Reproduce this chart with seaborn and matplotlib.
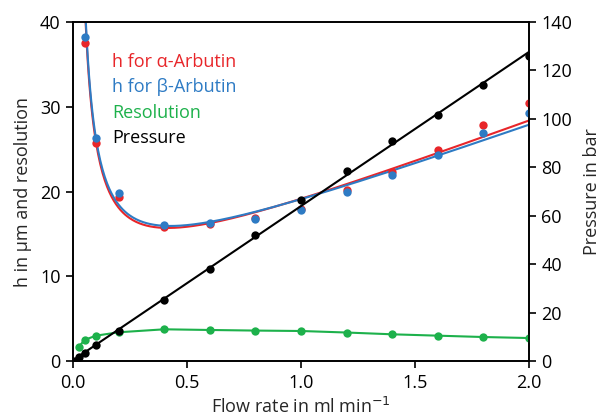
import numpy as np
import pandas as pd
import matplotlib
matplotlib.use("Agg")
import matplotlib.pyplot as plt
import seaborn as sns

# plate height data (h in um), flow in ml/min
flow_h = [0.05, 0.1, 0.2, 0.4, 0.6, 0.8, 1.0, 1.2, 1.4, 1.6, 1.8, 2.0]
h_alpha = [37.5, 25.7, 19.4, 15.8, 16.2, 16.9, 17.9, 20.2, 22.3, 24.9, 27.85, 30.4]
h_beta = [38.2, 26.3, 19.8, 16.0, 16.3, 16.8, 17.8, 19.9, 21.9, 24.3, 26.9, 29.3]

# van Deemter fit coefficients (A, B, C)
vd_alpha = (7.3, 1.75, 10.1)
vd_beta = (7.7, 1.76, 9.65)

flow_r = [0.025, 0.05, 0.1, 0.2, 0.4, 0.6, 0.8, 1.0, 1.2, 1.4, 1.6, 1.8, 2.0]
resolution = [1.7, 2.5, 3.0, 3.4, 3.75, 3.67, 3.6, 3.55, 3.37, 3.16, 3.0, 2.84, 2.72]

flow_p = [0.0, 0.025, 0.05, 0.1, 0.2, 0.4, 0.6, 0.8, 1.0, 1.2, 1.4, 1.6, 1.8, 2.0]
pressure = [0.0, 1.5, 3.4, 6.5, 12.6, 25.3, 38.0, 52.1, 66.5, 78.4, 90.8, 101.6, 113.9, 125.8]

RED = "#E8262A"
BLUE = "#2E7BC4"
GREEN = "#1DB14B"
BLACK = "#000000"
FS = 13


def van_deemter(u, coef):
    a, b, c = coef
    return a + b / u + c * u


def main():
    sns.set_style("ticks")
    plt.rcParams['font.family'] = ['Open Sans', 'DejaVu Sans']
    plt.rcParams['font.size'] = FS

    fig = plt.figure(figsize=(6.05, 4.16), dpi=100)
    ax = fig.add_axes([0.121, 0.132, 0.753, 0.815])
    ax2 = ax.twinx()

    u = np.linspace(0.03, 2.0, 400)
    fits = pd.DataFrame({'u': u,
                         'alpha': van_deemter(u, vd_alpha),
                         'beta': van_deemter(u, vd_beta)})
    sns.lineplot(data=fits, x='u', y='alpha', color=RED, lw=1.5, ax=ax)
    sns.lineplot(data=fits, x='u', y='beta', color=BLUE, lw=1.5, ax=ax)

    sns.scatterplot(x=flow_h, y=h_alpha, color=RED, s=36, linewidth=0, ax=ax, zorder=3)
    sns.scatterplot(x=flow_h, y=h_beta, color=BLUE, s=36, linewidth=0, ax=ax, zorder=3)

    sns.lineplot(x=flow_r, y=resolution, color=GREEN, lw=1.5, ax=ax)
    sns.scatterplot(x=flow_r, y=resolution, color=GREEN, s=36, linewidth=0, ax=ax, zorder=3)

    # linear fit for pressure
    k, d = np.polyfit(flow_p, pressure, 1)
    xp = np.array([0.0, 2.0])
    sns.lineplot(x=xp, y=k * xp + d, color=BLACK, lw=1.5, ax=ax2)
    sns.scatterplot(x=flow_p, y=pressure, color=BLACK, s=36, linewidth=0, ax=ax2, zorder=3)

    ax.set_xlim(0, 2.0)
    ax.set_ylim(0, 40)
    ax2.set_ylim(0, 140)
    ax.set_xticks([0.0, 0.5, 1.0, 1.5, 2.0])
    ax.set_xticklabels(['0.0', '0.5', '1.0', '1.5', '2.0'])
    ax.set_yticks([0, 10, 20, 30, 40])
    ax2.set_yticks([0, 20, 40, 60, 80, 100, 120, 140])

    for a in (ax, ax2):
        for sp in a.spines.values():
            sp.set_visible(True)
            sp.set_color('black')
            sp.set_linewidth(1.2)
        a.tick_params(direction='out', length=5, width=1.2, colors='black',
                      labelsize=FS, pad=4)
        a.grid(False)

    ax.set_xlabel('Flow rate in ml min$^{-1}$', fontsize=FS)
    ax.xaxis.set_label_coords(0.5, -0.105)
    ax.set_ylabel('h in µm and resolution', fontsize=FS, labelpad=6)
    ax2.set_ylabel('Pressure in bar', fontsize=FS, labelpad=8)

    # coloured text legend
    labels = ['h for α-Arbutin', 'h for β-Arbutin', 'Resolution', 'Pressure']
    colors = [RED, BLUE, GREEN, BLACK]
    for i, (lab, c) in enumerate(zip(labels, colors)):
        ax.text(0.085, 0.882 - i * 0.075, lab, color=c, fontsize=FS,
                transform=ax.transAxes, va='center', ha='left')

    fig.savefig('out.png', dpi=100)


if __name__ == "__main__":
    main()
